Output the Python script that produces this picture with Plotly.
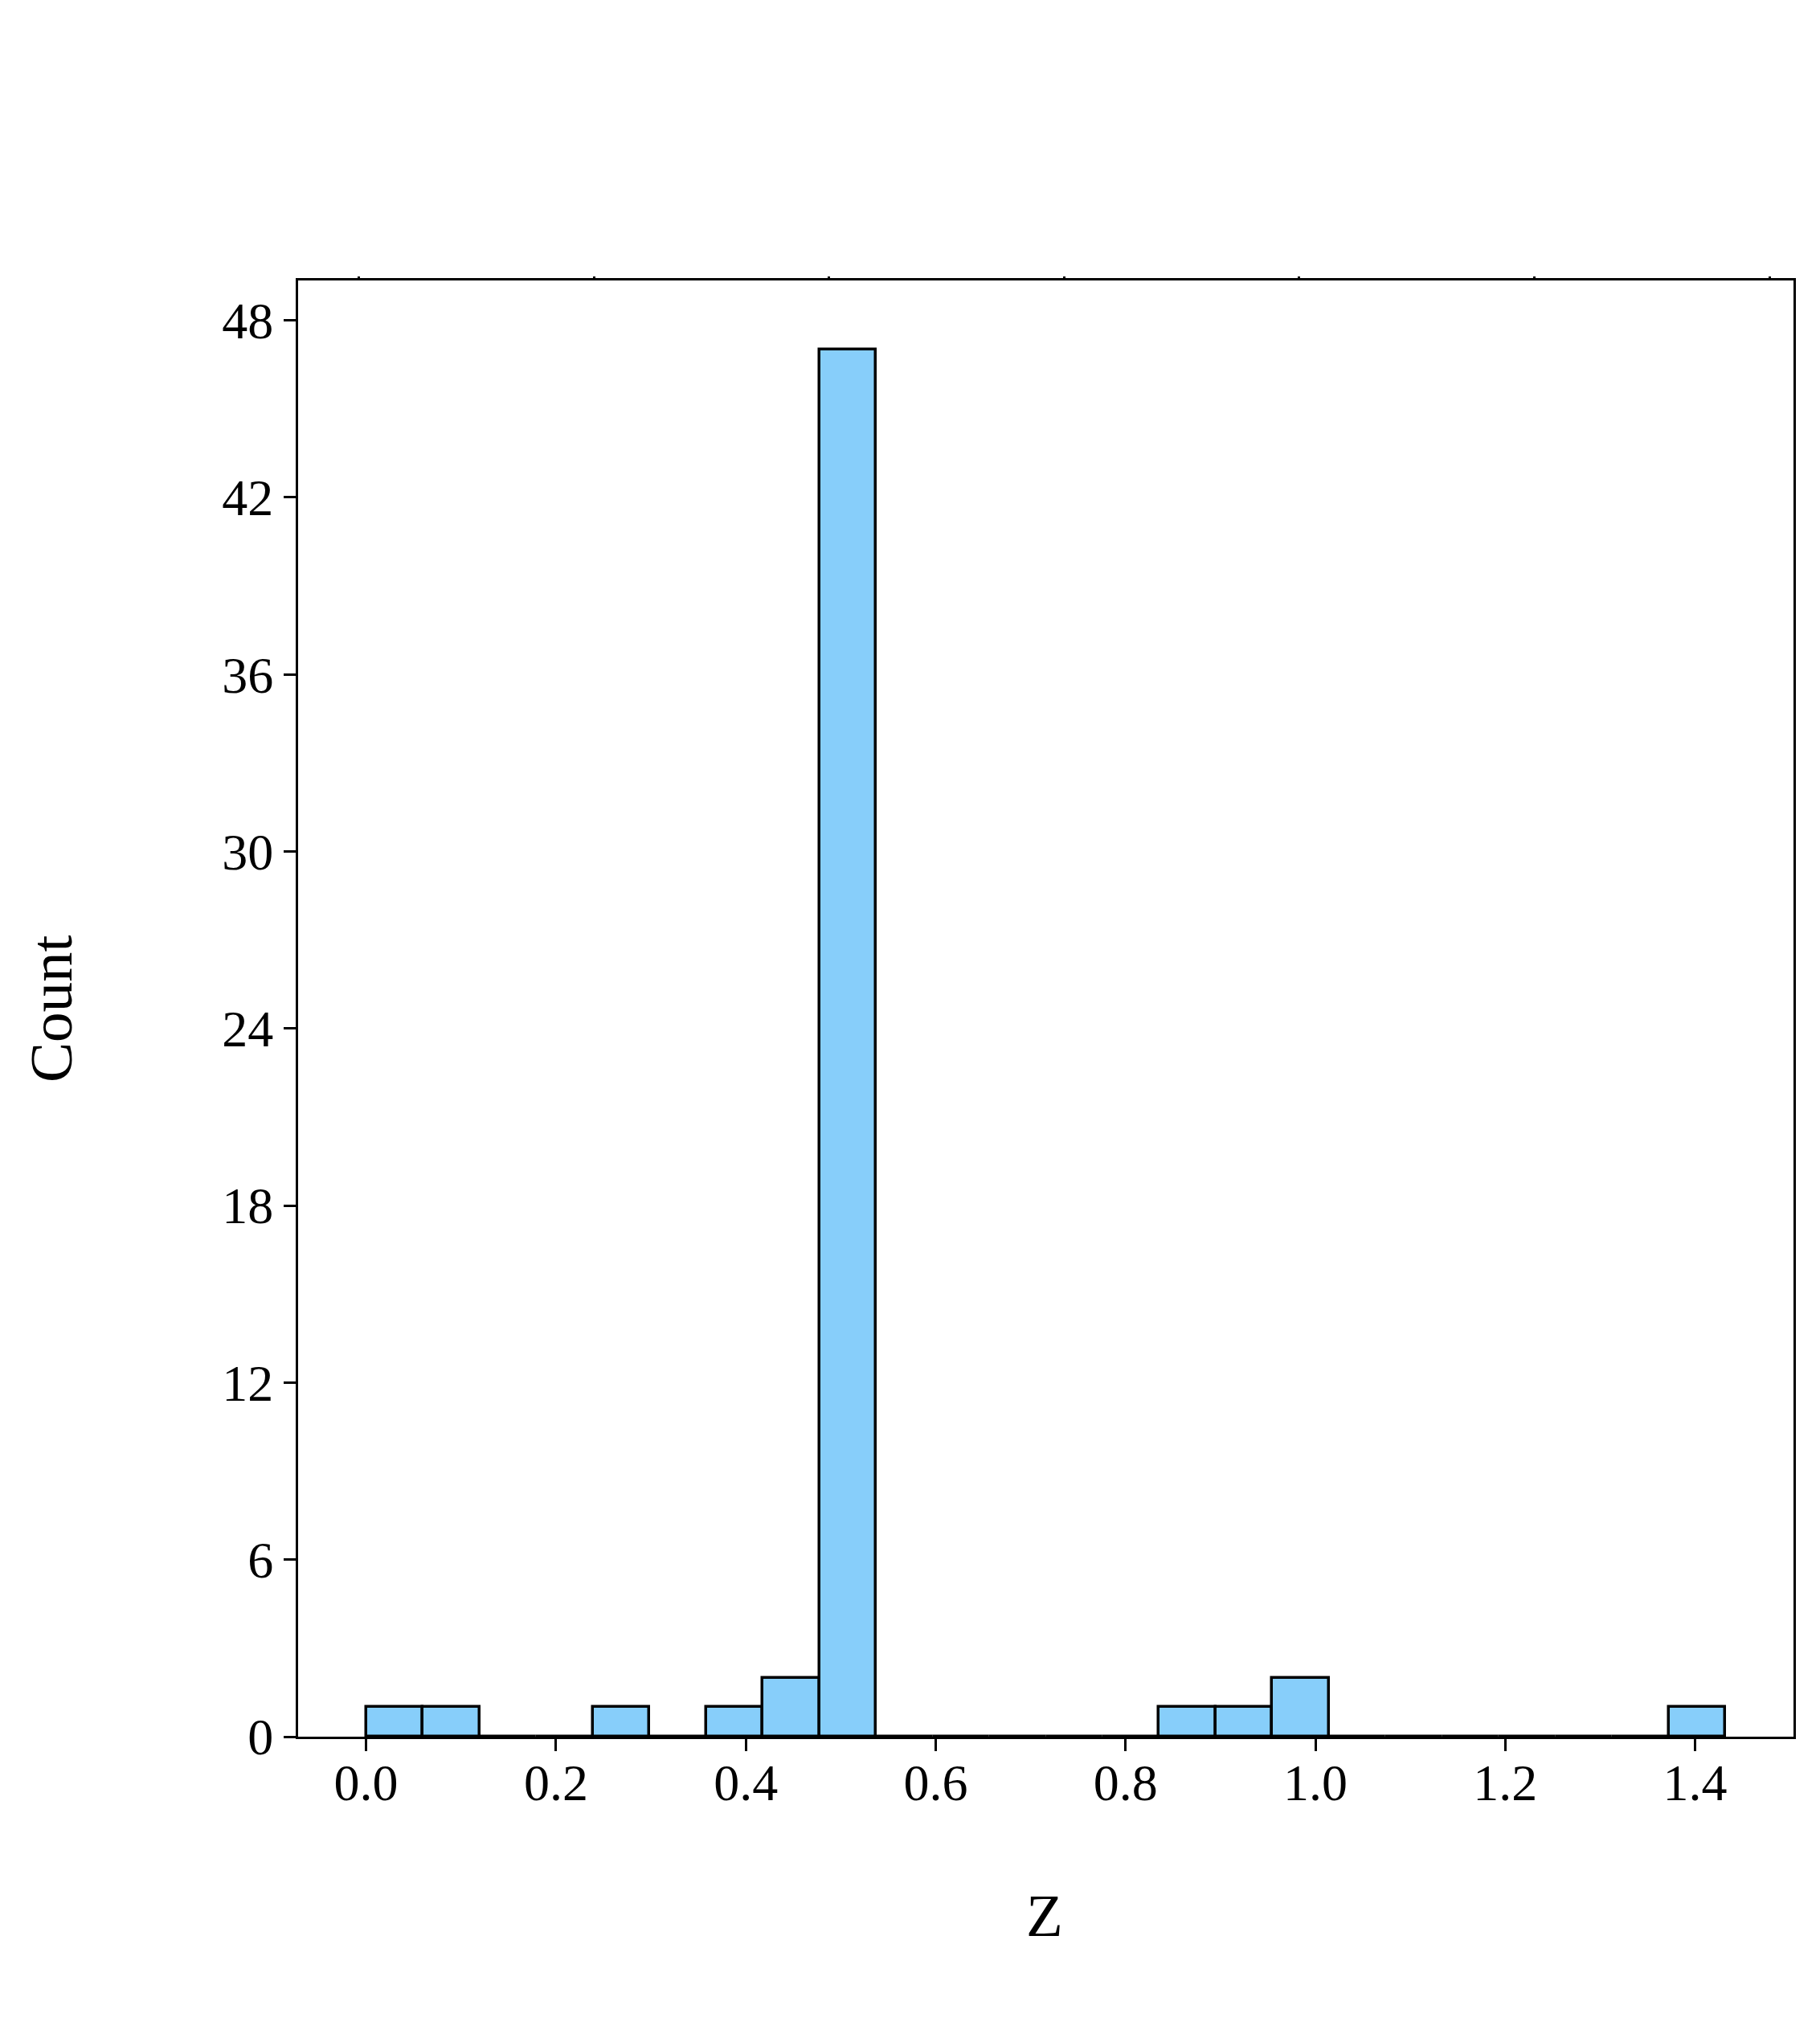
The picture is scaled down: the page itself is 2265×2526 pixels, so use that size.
import plotly.graph_objects as go

# histogram of Z: 24 equal bins from 0 to ~1.432
z_min = 0.0
z_max = 1.432
n_bins = 24
counts = [1, 1, 0, 0, 1, 0, 1, 2, 47, 0, 0, 0, 0, 0, 1, 1, 2, 0, 0, 0, 0, 0, 0, 1]
y_ticks = [0, 6, 12, 18, 24, 30, 36, 42, 48]
x_ticks = [0.0, 0.2, 0.4, 0.6, 0.8, 1.0, 1.2, 1.4]

bin_w = (z_max - z_min) / n_bins
bin_left = [z_min + i * bin_w for i in range(n_bins)]

font = "Liberation Serif, Times New Roman, serif"

fig = go.Figure()
fig.add_trace(go.Bar(
    x=bin_left, y=counts, width=bin_w, offset=0,
    marker=dict(color="#87CEFA", line=dict(color="black", width=3.5)),
    showlegend=False,
))
# invisible trace to carry the top (twin) axis
fig.add_trace(go.Scatter(x=[0], y=[0], xaxis="x2", mode="markers",
                         marker=dict(opacity=0), showlegend=False, hoverinfo="skip"))

span = z_max - z_min
fig.update_layout(
    width=2265, height=2526,
    margin=dict(l=363, r=41, t=341, b=373),
    plot_bgcolor="white", paper_bgcolor="white",
    bargap=0,
    font=dict(family=font, size=64, color="black"),
    xaxis=dict(
        range=[z_min - 0.05 * span, z_max + 0.05 * span],
        tickvals=x_ticks, ticktext=[f"{v:.1f}" for v in x_ticks],
        ticks="outside", ticklen=15, tickwidth=2.5, tickcolor="black",
        ticklabelstandoff=-16,
        showline=True, linecolor="black", linewidth=3, mirror=True,
        showgrid=False, zeroline=False,
    ),
    xaxis2=dict(
        overlaying="x", side="top", range=[0, 1],
        tickvals=[0.0407 + k * 0.1572 for k in range(7)],
        ticks="outside", ticklen=4, tickwidth=3, tickcolor="black",
        showticklabels=False, showgrid=False, zeroline=False, showline=False,
    ),
    yaxis=dict(
        range=[0, max(counts) * 1.05],
        tickvals=y_ticks,
        ticks="outside", ticklen=15, tickwidth=2.5, tickcolor="black",
        showline=True, linecolor="black", linewidth=3, mirror=True,
        showgrid=False, zeroline=False,
    ),
    annotations=[
        dict(text="Z", xref="paper", yref="paper", x=0.499, y=-0.123,
             showarrow=False, font=dict(size=75), xanchor="center", yanchor="middle"),
        dict(text="Count", xref="paper", yref="paper", x=-0.1655, y=0.5,
             showarrow=False, font=dict(size=75), textangle=-90,
             xanchor="center", yanchor="middle"),
    ],
)

fig.write_html("out.html")
